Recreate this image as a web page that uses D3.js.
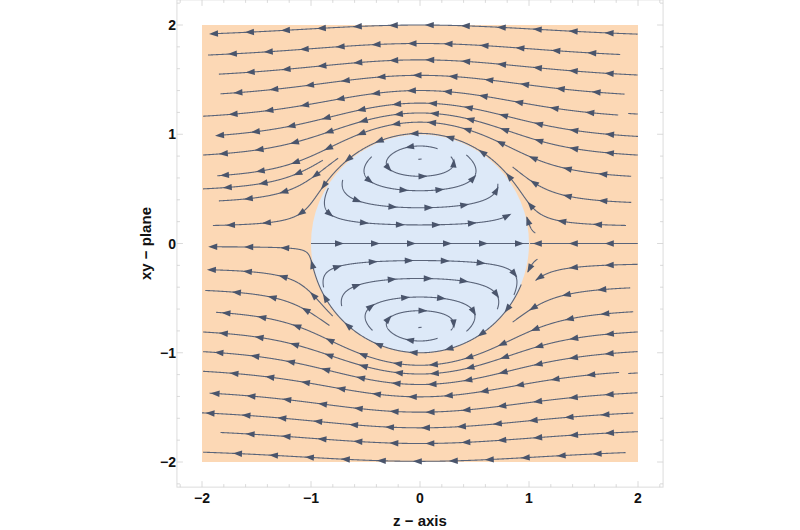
<!DOCTYPE html>
<html><head><meta charset="utf-8">
<script src="https://cdn.jsdelivr.net/npm/d3@7"></script>
<style>
body{margin:0;background:#fff}
svg{display:block}
text{font-family:"Liberation Sans",Arial,sans-serif;font-weight:bold;fill:#111}
</style></head>
<body><svg id="c" width="800" height="530"></svg>
<script>
// ---------- data ----------
const zTicks = [-2, -1, 0, 1, 2];
const yTicks = [-2, -1, 0, 1, 2];
const tickLabels = ["\u22122", "\u22121", "0", "1", "2"];
const xTitle = "z \u2212 axis";
const yTitle = "xy \u2212 plane";

// outer streamlines: downstream (left) end point [z, y] and upstream z limit
const outerStart = [
  [-1.90, 1.92], [-1.945, 1.725], [-1.845, 1.55], [-1.83, 1.37], [-1.99, 1.165],
  [1.91, 1.19], [-1.845, 0.99], [-1.99, 0.81], [-1.86, 0.62], [-1.99, 0.50],
  [-1.845, 0.39], [-1.90, 0.165], [0.85, 0.70], [0.98, 0.24], [1.01, 0.0],
  [-1.92, -0.03], [-1.93, -0.24], [-1.97, -0.43], [-1.87, -0.63], [-1.99, -0.81],
  [-1.99, -0.99], [-1.99, -1.17], [1.91, -1.19], [-1.93, -1.37], [-2.0, -1.55],
  [-1.83, -1.73], [-1.99, -1.91], [1.06, -0.34], [0.85, -0.72], [0.99, -0.26]
];
const outerEndZ = [
  2.0, 1.84, 2.0, 1.88, 1.82,
  2.0, 2.0, 2.0, 1.94, -0.89,
  -0.75, 1.89, 1.94, 1.06, 2.0,
  0.93, -0.80, -0.83, 1.96, 2.0,
  2.0, 1.83, 2.0, 2.0, 1.96,
  2.0, 1.89, 2.0, 1.93, 1.08
];

// inner streamlines: crossing of z = 0 nearest the axis, start point, end point
const innerMidY = [0.615, 0.483, 0.327, 0.17, -0.156, -0.32, -0.49, -0.615];
const innerStart = [[0.22, 0.90], [-0.505, 0.80], [-0.72, 0.58], [-0.87, 0.50],
                    [-0.89, -0.40], [-0.73, -0.57], [-0.50, -0.80], [0.22, -0.90]];
const innerEnd = [[0.32, 0.80], [0.45, 0.815], [0.71, 0.55], [0.81, 0.27],
                  [0.90, -0.46], [0.72, -0.60], [0.64, -0.82], [0.32, -0.80]];
const innerAxis = [[-1.0, 0.0], [1.0, 0.0]];
const centerDashes = [[0, 0.77], [0, -0.77]];

// ---------- layout ----------
const svg = d3.select("#c");
const x = d3.scaleLinear().domain([-2, 2]).range([202, 638]);
const y = d3.scaleLinear().domain([-2, 2]).range([462, 25]);
const frameLo = -2.23, frameHi = 2.23;

const C_OUT = "#fcd8b5", C_IN = "#dde9f8", C_LINE = "#5a6479", C_ARROW = "#4a556c";

// frame
svg.append("rect")
  .attr("x", x(frameLo)).attr("y", y(frameHi))
  .attr("width", x(frameHi) - x(frameLo)).attr("height", y(frameLo) - y(frameHi))
  .attr("fill", "none").attr("stroke", "#dcdcdc").attr("stroke-width", 1);

// faint frame ticks
const minor = d3.range(-2.2, 2.21, 0.2).map(v => +v.toFixed(2));
const tickG = svg.append("g").attr("stroke", "#d0d0d0").attr("stroke-width", 0.8);
minor.forEach(v => {
  const major = zTicks.includes(v);
  const L = major ? 6 : 3;
  tickG.append("line").attr("x1", x(v)).attr("x2", x(v)).attr("y1", y(frameLo)).attr("y2", y(frameLo) - L);
  tickG.append("line").attr("x1", x(v)).attr("x2", x(v)).attr("y1", y(frameHi)).attr("y2", y(frameHi) + L);
  tickG.append("line").attr("y1", y(v)).attr("y2", y(v)).attr("x1", x(frameLo)).attr("x2", x(frameLo) + L);
  tickG.append("line").attr("y1", y(v)).attr("y2", y(v)).attr("x1", x(frameHi)).attr("x2", x(frameHi) - L);
});

// regions
svg.append("rect").attr("x", x(-2)).attr("y", y(2))
  .attr("width", x(2) - x(-2)).attr("height", y(-2) - y(2)).attr("fill", C_OUT);
svg.append("circle").attr("cx", x(0)).attr("cy", y(0))
  .attr("r", x(1) - x(0)).attr("fill", C_IN);

// ---------- streamline tracing ----------
function outerVel(z, r) {
  const R2 = z * z + r * r, R = Math.sqrt(R2), R3 = R2 * R, R5 = R3 * R2;
  return [-(1 - 1 / R3 + 1.5 * r * r / R5), 1.5 * r * z / R5];
}
function innerVel(z, r) {
  return [3 - 3 * z * z - 5 * r * r, 2 * r * z];
}
function rk4(vel, p, h, sgn) {
  const dir = q => { const v = vel(q[0], q[1]); const n = Math.hypot(v[0], v[1]) || 1e-12; return [sgn * v[0] / n, sgn * v[1] / n]; };
  const k1 = dir(p);
  const k2 = dir([p[0] + h / 2 * k1[0], p[1] + h / 2 * k1[1]]);
  const k3 = dir([p[0] + h / 2 * k2[0], p[1] + h / 2 * k2[1]]);
  const k4 = dir([p[0] + h * k3[0], p[1] + h * k3[1]]);
  return [p[0] + h / 6 * (k1[0] + 2 * k2[0] + 2 * k3[0] + k4[0]),
          p[1] + h / 6 * (k1[1] + 2 * k2[1] + 2 * k3[1] + k4[1])];
}
function traceOuter(seed, zEnd) {
  let p = seed; const pts = [p];
  for (let i = 0; i < 6000; i++) {
    const q = rk4(outerVel, p, 0.004, -1);
    if (q[0] >= zEnd || q[0] > 2 || Math.abs(q[1]) > 2.03) break;
    pts.push([q[0], Math.max(-2, Math.min(2, q[1]))]); p = q;
  }
  return pts.reverse(); // upstream -> downstream
}
function traceInner(mid, st, en) {
  const yc = mid > 0 ? 0.775 : -0.775, s = mid > 0 ? 1 : -1;
  const seed = [0, mid];
  const ang = p => Math.atan2(p[1] - yc, p[0]);
  const TAU = 2 * Math.PI, mod = a => ((a % TAU) + TAU) % TAU;
  const th0 = ang(seed);
  const tF = mod(s * (ang(en) - th0)), tB = mod(s * (th0 - ang(st)));
  function run(sgn, target) {
    let p = seed, cum = 0, prev = th0; const out = [];
    for (let i = 0; i < 8000; i++) {
      const q = rk4(innerVel, p, 0.003, sgn);
      const a = ang(q); let d = a - prev;
      if (d > Math.PI) d -= TAU; if (d < -Math.PI) d += TAU;
      cum += d; prev = a;
      if (sgn * s * cum >= target) break;
      out.push(q); p = q;
    }
    return out;
  }
  const f = run(1, tF), b = run(-1, tB);
  return b.reverse().concat([seed], f);
}

const lines = [];
outerStart.forEach((s, i) => lines.push(traceOuter(s, outerEndZ[i])));
innerMidY.forEach((m, i) => lines.push(traceInner(m, innerStart[i], innerEnd[i])));
lines.push(innerAxis);

const lineGen = d3.line().x(d => x(d[0])).y(d => y(d[1]));
const gL = svg.append("g").attr("fill", "none").attr("stroke", C_LINE).attr("stroke-width", 1.1);
lines.forEach(pts => gL.append("path").attr("d", lineGen(pts)));

centerDashes.forEach(c => {
  gL.append("path").attr("d", lineGen([[c[0] - 0.015, c[1]], [c[0] + 0.015, c[1] + 0.004]]));
});

// arrows
const gA = svg.append("g").attr("fill", C_ARROW);
function arrowsFor(pts) {
  const P = pts.map(d => [x(d[0]), y(d[1])]);
  const cum = [0];
  for (let i = 1; i < P.length; i++) cum.push(cum[i - 1] + Math.hypot(P[i][0] - P[i - 1][0], P[i][1] - P[i - 1][1]));
  const L = cum[cum.length - 1];
  let ds = [];
  for (let d = 28; d <= L - 1; d += 36) ds.push(d);
  if (!ds.length && L > 14) ds = [L - 4];
  ds.forEach(d => {
    let i = d3.bisectLeft(cum, d); if (i < 1) i = 1; if (i >= P.length) i = P.length - 1;
    const t = (d - cum[i - 1]) / ((cum[i] - cum[i - 1]) || 1);
    const px = P[i - 1][0] + t * (P[i][0] - P[i - 1][0]);
    const py = P[i - 1][1] + t * (P[i][1] - P[i - 1][1]);
    const a = Math.atan2(P[i][1] - P[i - 1][1], P[i][0] - P[i - 1][0]) * 180 / Math.PI;
    gA.append("path").attr("d", "M5,0L-4,-3.2L-4,3.2Z")
      .attr("transform", `translate(${px},${py}) rotate(${a})`);
  });
}
lines.forEach(arrowsFor);

// ---------- labels ----------
const gT = svg.append("g").style("font-size", "14px");
zTicks.forEach((v, i) => gT.append("text").attr("x", x(v)).attr("y", 503)
  .attr("text-anchor", "middle").text(tickLabels[i]));
yTicks.forEach((v, i) => gT.append("text").attr("x", 176).attr("y", y(v) + 5)
  .attr("text-anchor", "end").text(tickLabels[i]));
svg.append("text").attr("x", x(0)).attr("y", 526).attr("text-anchor", "middle")
  .style("font-size", "15px").text(xTitle);
svg.append("text").attr("transform", `translate(151,${y(0)}) rotate(-90)`)
  .attr("text-anchor", "middle").style("font-size", "15px").text(yTitle);
</script>
</body></html>
